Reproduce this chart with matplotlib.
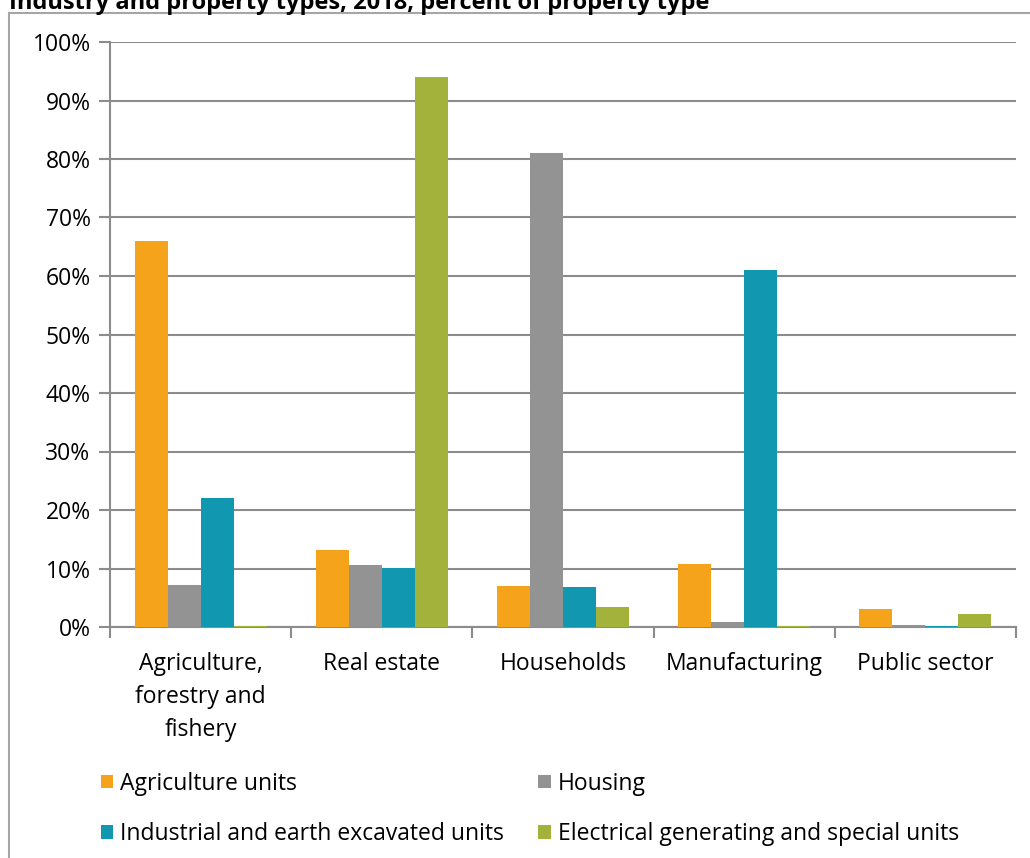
import numpy as np
import matplotlib.pyplot as plt
from matplotlib.patches import Rectangle
from matplotlib.ticker import FuncFormatter

plt.rcParams['font.family'] = ['Open Sans', 'DejaVu Sans']

title = 'Industry and property types, 2018, percent of property type'
categories = ['Agriculture,\nforestry and\nfishery', 'Real estate', 'Households',
              'Manufacturing', 'Public sector']
series = ['Agriculture units', 'Housing',
          'Industrial and earth excavated units', 'Electrical generating and special units']
agriculture_units = [65.9, 13.2, 7.0, 10.8, 3.1]
housing = [7.1, 10.6, 81.0, 0.8, 0.3]
industrial_units = [22.0, 10.1, 6.8, 61.0, 0.1]
electrical_units = [0.1, 94.0, 3.5, 0.1, 2.2]
values = [agriculture_units, housing, industrial_units, electrical_units]
colors = ['#F5A31A', '#939393', '#1197B0', '#A2B23A']

fig = plt.figure(figsize=(10.3, 8.58), dpi=100)
ax = fig.add_axes([110 / 1030, 1 - 627 / 858, 906 / 1030, 585 / 858])

# outer chart frame (cropped on the right and bottom, as in the reference)
fig.patches.append(Rectangle((9 / 1030, -0.1), 1.1, 1 - 13 / 858 + 0.1,
                             transform=fig.transFigure, fill=False,
                             edgecolor='#A6A6A6', linewidth=1.5, zorder=0))
fig.text(9 / 1030, 1 - 3 / 858, title, fontsize=17, fontweight='bold',
         va='center', ha='left')

x = np.arange(len(categories))
width = 0.182
bars = []
for i, (vals, name, c) in enumerate(zip(values, series, colors)):
    bars.append(ax.bar(x + (i - 1.5) * width, vals, width, color=c,
                       label=name, zorder=3))

ax.set_xlim(-0.5, len(categories) - 0.5)
ax.set_ylim(0, 100)
ax.set_yticks(range(0, 101, 10))
ax.yaxis.set_major_formatter(FuncFormatter(lambda v, p: f'{v:.0f}%'))
ax.grid(axis='y', color='#8C8C8C', linewidth=1.5, zorder=0)
ax.set_xticks(x)
ax.set_xticklabels(categories, fontsize=16.5, linespacing=1.5)
ax.set_xticks(np.arange(-0.5, len(categories)), minor=True)
ax.tick_params(axis='x', which='major', length=0, pad=18)
ax.tick_params(axis='x', which='minor', length=8, width=1.5, color='#8C8C8C')
ax.tick_params(axis='y', length=8, width=1.5, color='#8C8C8C', labelsize=16.5, pad=6)
for s in ['top', 'right']:
    ax.spines[s].set_visible(False)
for s in ['left', 'bottom']:
    ax.spines[s].set_color('#8C8C8C')
    ax.spines[s].set_linewidth(1.5)

# row-major legend order: matplotlib fills columns first
order = [0, 2, 1, 3]
fig.legend([bars[i] for i in order], [series[i] for i in order],
           loc='upper left', bbox_to_anchor=(80 / 1030, 1 - 751 / 858), ncol=2,
           frameon=False, fontsize=16.5, handlelength=0.55, handleheight=0.55,
           handletextpad=0.3, columnspacing=1.5, labelspacing=1.15)

fig.savefig('out.png', dpi=100)
